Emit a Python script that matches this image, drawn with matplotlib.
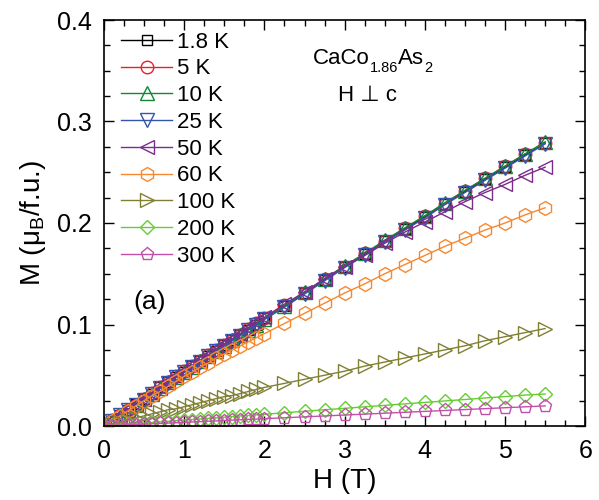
import matplotlib
matplotlib.use("Agg")
import matplotlib.pyplot as plt
from matplotlib.ticker import MultipleLocator

plt.rcParams['font.family'] = ['Liberation Sans', 'DejaVu Sans']
plt.rcParams['mathtext.fontset'] = 'custom'
plt.rcParams['mathtext.rm'] = 'Liberation Sans'
plt.rcParams['mathtext.it'] = 'Liberation Sans:italic'
plt.rcParams['mathtext.default'] = 'regular'

H = [0.0, 0.1, 0.2, 0.3, 0.4, 0.5, 0.6, 0.7, 0.8, 0.9, 1.0, 1.1, 1.2, 1.3, 1.4, 1.5,
     1.6, 1.7, 1.8, 1.9, 2.0, 2.25, 2.5, 2.75, 3.0, 3.25, 3.5, 3.75, 4.0, 4.25, 4.5,
     4.75, 5.0, 5.25, 5.5]

M_1p8K = [0.000, 0.005, 0.011, 0.016, 0.022, 0.027, 0.032, 0.038, 0.043, 0.048, 0.053,
          0.059, 0.064, 0.069, 0.074, 0.080, 0.085, 0.090, 0.095, 0.100, 0.106, 0.118,
          0.131, 0.144, 0.157, 0.169, 0.182, 0.194, 0.206, 0.219, 0.231, 0.243, 0.255,
          0.267, 0.279]
M_5K = [0.000, 0.006, 0.011, 0.016, 0.021, 0.027, 0.033, 0.038, 0.043, 0.049, 0.054,
        0.059, 0.064, 0.070, 0.075, 0.080, 0.085, 0.090, 0.096, 0.101, 0.106, 0.119,
        0.131, 0.145, 0.157, 0.170, 0.182, 0.195, 0.207, 0.219, 0.232, 0.244, 0.256,
        0.268, 0.279]
M_10K = [0.000, 0.005, 0.010, 0.016, 0.021, 0.027, 0.032, 0.037, 0.043, 0.048, 0.053,
         0.058, 0.064, 0.069, 0.074, 0.079, 0.085, 0.090, 0.095, 0.100, 0.105, 0.118,
         0.132, 0.145, 0.158, 0.170, 0.183, 0.195, 0.207, 0.220, 0.232, 0.244, 0.256,
         0.268, 0.280]
M_25K = [0.000, 0.005, 0.011, 0.016, 0.021, 0.026, 0.032, 0.037, 0.042, 0.048, 0.053,
         0.058, 0.063, 0.069, 0.074, 0.079, 0.084, 0.089, 0.095, 0.100, 0.105, 0.117,
         0.130, 0.143, 0.156, 0.168, 0.181, 0.193, 0.205, 0.218, 0.230, 0.242, 0.254,
         0.266, 0.278]
M_50K = [0.000, 0.0055, 0.011, 0.0165, 0.022, 0.027, 0.033, 0.038, 0.044, 0.049, 0.054,
         0.060, 0.065, 0.070, 0.076, 0.081, 0.086, 0.091, 0.097, 0.102, 0.107, 0.120,
         0.132, 0.145, 0.157, 0.168, 0.180, 0.191, 0.201, 0.211, 0.221, 0.230, 0.238,
         0.247, 0.255]
M_60K = [0.000, 0.005, 0.010, 0.015, 0.020, 0.025, 0.030, 0.034, 0.039, 0.044, 0.049,
         0.053, 0.058, 0.062, 0.067, 0.071, 0.075, 0.079, 0.083, 0.087, 0.091, 0.101,
         0.111, 0.121, 0.131, 0.140, 0.150, 0.159, 0.168, 0.177, 0.185, 0.193, 0.200,
         0.208, 0.215]
M_100K = [0.000, 0.002, 0.004, 0.006, 0.008, 0.010, 0.012, 0.014, 0.016, 0.017, 0.019,
          0.021, 0.023, 0.025, 0.027, 0.029, 0.030, 0.032, 0.034, 0.036, 0.038, 0.042,
          0.046, 0.050, 0.054, 0.059, 0.063, 0.067, 0.071, 0.075, 0.079, 0.084, 0.088,
          0.092, 0.096]
M_200K = [0.0000, 0.0006, 0.0012, 0.0017, 0.0023, 0.0029, 0.0035, 0.0040, 0.0046, 0.0052,
          0.0058, 0.0064, 0.0070, 0.0075, 0.0081, 0.0087, 0.0093, 0.0099, 0.0104, 0.0110,
          0.0116, 0.0130, 0.0145, 0.0160, 0.0174, 0.0189, 0.0203, 0.0218, 0.0232, 0.0247,
          0.0261, 0.0276, 0.0290, 0.0305, 0.0315]
M_300K = [0.0000, 0.0004, 0.0007, 0.0011, 0.0014, 0.0018, 0.0022, 0.0025, 0.0029, 0.0032,
          0.0036, 0.0040, 0.0043, 0.0047, 0.0050, 0.0054, 0.0058, 0.0061, 0.0065, 0.0068,
          0.0072, 0.0081, 0.0090, 0.0099, 0.0108, 0.0117, 0.0126, 0.0135, 0.0144, 0.0153,
          0.0162, 0.0171, 0.0180, 0.0189, 0.0198]

labels = ['1.8 K', '5 K', '10 K', '25 K', '50 K', '60 K', '100 K', '200 K', '300 K']
series = [M_1p8K, M_5K, M_10K, M_25K, M_50K, M_60K, M_100K, M_200K, M_300K]
colors = ['#000000', '#E8202A', '#118833', '#3355AA', '#7B2D8B', '#F7882F',
          '#808033', '#66CC33', '#C050A8']
markers = ['s', 'o', '^', 'v', '<', 'h', '>', 'D', 'p']
msizes = [7, 9, 10, 10, 10, 10, 10, 7.5, 9.5]

fig = plt.figure(figsize=(5.99, 5.00), dpi=100)
ax = fig.add_axes([0.1736, 0.148, 0.977 - 0.1736, 0.96 - 0.148])

for M, lab, c, mk, ms in zip(series, labels, colors, markers, msizes):
    ax.plot(H, M, color=c, marker=mk, ms=ms, mfc='none', mec=c, mew=1.0,
            lw=1.0, label=lab)

ax.set_xlim(0, 6)
ax.set_ylim(0, 0.4)
ax.xaxis.set_major_locator(MultipleLocator(1))
ax.xaxis.set_minor_locator(MultipleLocator(0.25))
ax.yaxis.set_major_locator(MultipleLocator(0.1))
ax.yaxis.set_minor_locator(MultipleLocator(0.025))
ax.tick_params(which='both', direction='in', top=True, right=True, labelsize=18,
               width=1.0)
ax.tick_params(which='major', length=7)
ax.tick_params(axis='y', which='major', pad=9)
ax.tick_params(axis='x', which='major', pad=9)
ax.tick_params(which='minor', length=4)
for s in ax.spines.values():
    s.set_linewidth(1.2)

ax.set_xlabel('H (T)', fontsize=20, labelpad=4)
ax.set_ylabel(r'M ($\mu_B$/f.u.)', fontsize=20, labelpad=6)

ax.legend(loc='upper left', bbox_to_anchor=(0.012, 1.0), frameon=False, fontsize=16,
          handlelength=2.3, handletextpad=0.22, labelspacing=0.26, borderaxespad=0.12)

# formula built from pieces: main text and smaller, lowered subscripts
t1 = ax.text(2.61, 0.357, 'CaCo', fontsize=16, ha='left', va='baseline')
t2 = ax.annotate('1.86', xy=(1, 0), xycoords=t1, xytext=(0, -4.5),
                 textcoords='offset points', fontsize=10.5, ha='left', va='bottom')
t3 = ax.annotate('As', xy=(1, 0), xycoords=t2, xytext=(0, 4.5),
                 textcoords='offset points', fontsize=16, ha='left', va='bottom')
t4 = ax.annotate('2', xy=(1, 0), xycoords=t3, xytext=(0, -4.5),
                 textcoords='offset points', fontsize=10.5, ha='left', va='bottom')

ax.text(3.29, 0.326, 'H ⊥ c', fontsize=16, ha='center', va='center')
ax.text(0.57, 0.122, '(a)', fontsize=19, ha='center', va='center')

fig.savefig('out.png', dpi=100)
